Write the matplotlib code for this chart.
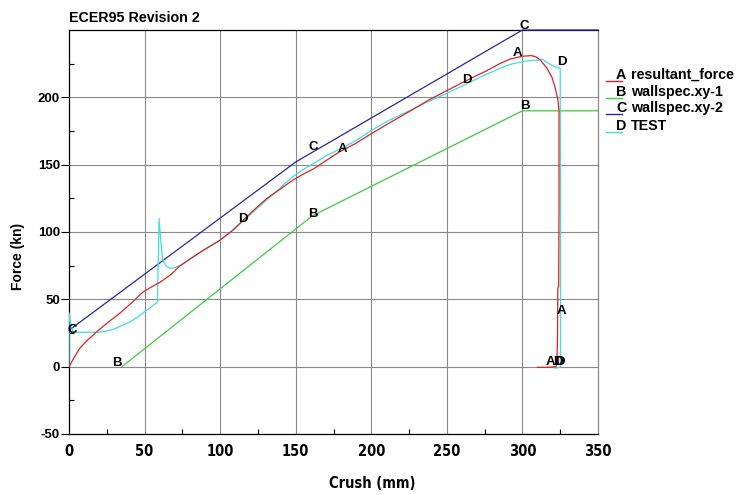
import numpy as np
import matplotlib
matplotlib.use("Agg")
import matplotlib.pyplot as plt
from matplotlib import font_manager
from matplotlib.lines import Line2D

# ---------------- data ----------------
A_x = [0, 3, 7, 12, 20, 27, 34, 42, 49, 55, 60, 67, 73, 80, 89, 100, 108, 115, 123, 131,
       140, 148, 155, 162, 170, 179, 190, 200, 212, 226, 238, 250, 263, 275, 285, 292,
       300, 306, 309, 312, 316, 319.5, 321.7, 323.5, 324.2, 324.2, 324.0, 323.4, 323.2,
       322.8, 322.3, 316, 310]
A_y = [0, 6, 13.5, 19.5, 27.5, 34, 40, 48, 55.5, 59.5, 62.5, 68, 74.5, 80, 86.5, 94, 101,
       108.5, 117, 125, 132, 138.5, 143, 147, 153, 159.5, 166, 173, 181, 190, 198, 205,
       212.5, 219, 225, 228.5, 230.5, 231, 230, 227.5, 222, 215, 207, 198, 190, 120,
       60, 58, 20, 3, 0, -0.5, -0.5]

B_x = [35, 161, 300, 350]
B_y = [0, 112, 190, 190]

C_x = [0, 150, 300, 350]
C_y = [27, 152, 250, 250]

D_x = [0, 0, 1, 2.5, 5, 10, 15, 20, 25, 30, 35, 40, 45, 49, 54, 58.5, 59.6, 60.6, 62,
       64, 67, 70, 74, 80, 88, 95, 100, 108, 115, 123, 131, 140, 148, 155, 162, 170,
       180, 190, 200, 212, 226, 238, 250, 263, 275, 285, 292, 300, 306, 310, 313, 316,
       320, 325, 325.2, 325.2, 323, 321]
D_y = [0, 40, 33, 26, 25.5, 25.5, 25.5, 25.5, 26.5, 28, 30.5, 33, 36.5, 40, 44, 48, 110,
       95, 79, 75, 73, 73.5, 75.5, 79.5, 86, 90.5, 94, 101, 108, 116, 124, 133, 141,
       146.5, 151, 156.5, 162, 168, 175.5, 183, 190.5, 197, 203, 210, 216.5, 221.5,
       224.5, 226.5, 227.5, 227.5, 228.5, 226, 223.5, 221.5, 100, 0, -1, -1]

# curve label marks (x, y) per series
A_lab = [(297, 233), (181, 162), (325.6, 41.5), (318.3, 3.2)]
B_lab = [(31.8, 3), (161.5, 113.3), (301.8, 193.3)]
C_lab = [(2, 27.4), (161.5, 163), (301, 253)]
D_lab = [(115.2, 109.6), (263.4, 212.6), (326.3, 226), (323.4, 3.2), (324.9, 3.2)]

legend_letters = ["A", "B", "C", "D"]
legend_names = ["resultant_force", "wallspec.xy-1", "wallspec.xy-2", "TEST"]

x_ticks = [0, 50, 100, 150, 200, 250, 300, 350]
y_ticks = [-50, 0, 50, 100, 150, 200]

# ---------------- styles ----------------
RED = "#dd2222"
GREEN = "#3ccc3c"
BLUE = "#2626a0"
CYAN = "#3ce0e0"

names = {f.name for f in font_manager.fontManager.ttflist}
if "Liberation Sans Narrow" in names:
    xfont = dict(family="Liberation Sans Narrow", weight="bold")
    xsize = 11
elif any(f.name == "DejaVu Sans" and f.stretch == "condensed" for f in font_manager.fontManager.ttflist):
    xfont = dict(family="DejaVu Sans", stretch="condensed", weight="bold")
    xsize = 10.5
else:
    xfont = dict(family="Liberation Sans", weight="bold")
    xsize = 10

plt.rcParams["font.family"] = ["Liberation Sans", "DejaVu Sans"]
plt.rcParams["axes.unicode_minus"] = False

W, H = 738, 495
fig = plt.figure(figsize=(W / 100, H / 100), dpi=100)
ax = fig.add_axes([69 / W, 1 - 434 / H, 529 / W, 404 / H])

lw = 0.9
ax.plot(C_x, C_y, color=BLUE, lw=lw, clip_on=False, zorder=3)
ax.plot(B_x, B_y, color=GREEN, lw=lw, zorder=3)
ax.plot(D_x, D_y, color=CYAN, lw=lw, zorder=3)
ax.plot(A_x, A_y, color=RED, lw=lw, zorder=3)

lab_kw = dict(ha="center", va="center", fontsize=9.5, fontweight="bold",
              color="black", clip_on=False, zorder=5)
for letter, labs in (("A", A_lab), ("B", B_lab), ("C", C_lab), ("D", D_lab)):
    for (lx, ly) in labs:
        ax.text(lx, ly, letter, **lab_kw)

ax.set_xlim(0, 350)
ax.set_ylim(-50, 250)
ax.set_xticks(x_ticks)
ax.set_yticks(y_ticks)
ax.set_xticks(np.arange(25, 350, 50), minor=True)
ax.set_yticks(np.arange(-25, 250, 50), minor=True)
ax.tick_params(axis="x", which="major", length=0, pad=7)
ax.tick_params(axis="y", which="major", direction="out", length=5.5, width=0.8, pad=1)
ax.tick_params(which="minor", direction="in", length=3.5, width=0.8)
ax.grid(True, which="major", color="#8a8a8a", lw=0.8)
ax.set_axisbelow(True)

for lab in ax.get_xticklabels():
    lab.set_fontproperties(font_manager.FontProperties(size=xsize, **xfont))
for lab in ax.get_yticklabels():
    lab.set_fontsize(9.5)
    lab.set_fontweight("bold")

for s in ("left", "bottom", "top"):
    ax.spines[s].set_color("black")
    ax.spines[s].set_linewidth(0.9)
ax.spines["right"].set_color("#8a8a8a")
ax.spines["right"].set_linewidth(0.9)

# title and axis labels
fig.text(69 / W, 1 - 18 / H, "ECER95 Revision 2", ha="left", va="center",
         fontsize=10.3, fontweight="bold")
fig.text(372 / W, 1 - 483 / H, "Crush (mm)", ha="center", va="center",
         fontproperties=font_manager.FontProperties(size=xsize, **xfont))
fig.text(18 / W, 1 - 256 / H, "Force (kn)", ha="center", va="center", rotation=90,
         fontsize=10, fontweight="bold")

# legend
rows = [75, 91.7, 108.3, 125.7]
cols = [RED, GREEN, BLUE, CYAN]
for ry, letter, name, c in zip(rows, legend_letters, legend_names, cols):
    fig.text(616 / W, 1 - ry / H, letter, ha="left", va="center",
             fontsize=10.3, fontweight="bold")
    fig.text(631 / W, 1 - ry / H, name, ha="left", va="center",
             fontsize=10.3, fontweight="bold")
    fig.add_artist(Line2D([606 / W, 622 / W], [1 - (ry + 6) / H, 1 - (ry + 6) / H],
                          transform=fig.transFigure, color=c, lw=1.0))

fig.savefig("out.png", dpi=100)
